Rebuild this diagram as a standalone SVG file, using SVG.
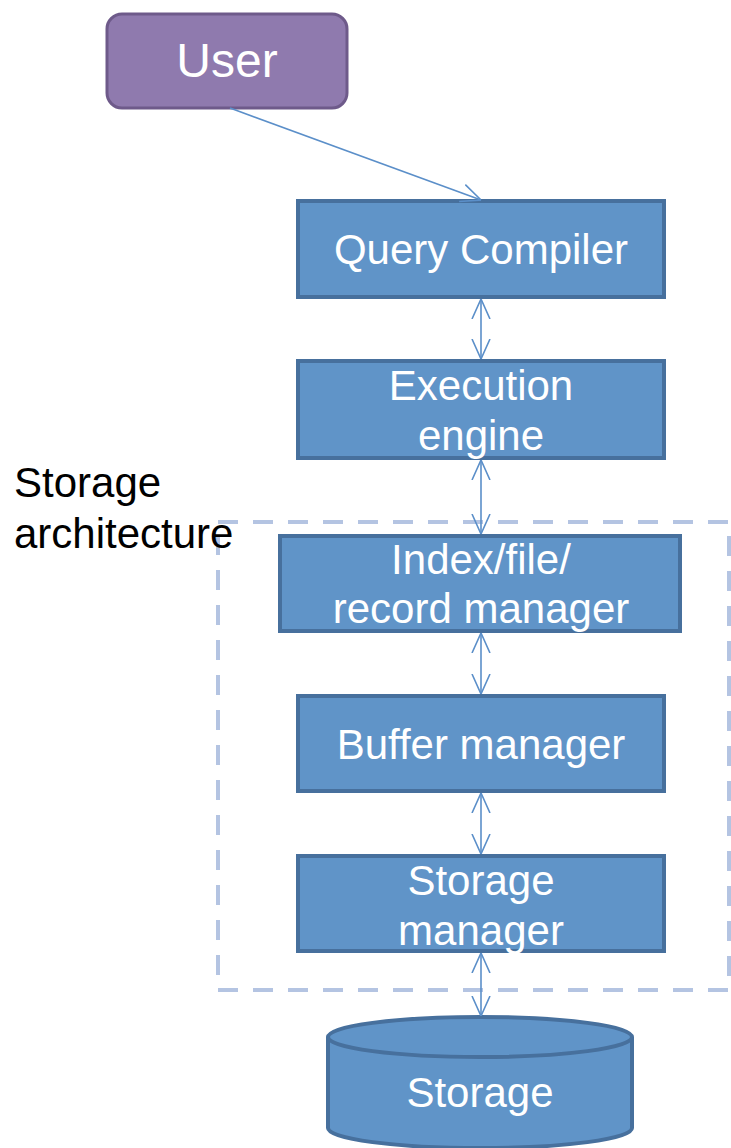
<svg xmlns="http://www.w3.org/2000/svg" width="731" height="1148" viewBox="0 0 731 1148">
<style>
.box{fill:#6094C8;stroke:#47709D;stroke-width:4}
.t{font-family:"Liberation Sans",Arial,sans-serif;font-size:42px;fill:#fff;text-anchor:middle}
.lbl{font-family:"Liberation Sans",Arial,sans-serif;font-size:42px;fill:#000}
.c{stroke:#5B8FC9;stroke-width:1.6;fill:none}
</style>
<defs>
<marker id="ah" viewBox="0 0 20 20" refX="20" refY="10" markerWidth="20" markerHeight="20" markerUnits="userSpaceOnUse" orient="auto-start-reverse">
<path d="M0,1 L20,10 L0,19" fill="none" stroke="#5B8FC9" stroke-width="1.6"/>
</marker>
</defs>
<rect width="731" height="1148" fill="#fff"/>
<g id="storage-architecture">
<rect x="218" y="522" width="511" height="468" fill="none" stroke="#B4C4E2" stroke-width="4" stroke-dasharray="20 15"/>
<text class="lbl" x="14" y="497">Storage</text>
<text class="lbl" x="14" y="548">architecture</text>
</g>
<g id="user">
<rect x="107" y="14" width="240" height="94" rx="15" fill="#8F7AAE" stroke="#6E5A8A" stroke-width="3"/>
<text class="t" x="227" y="77" style="font-size:48px">User</text>
</g>
<g id="query-compiler">
<rect class="box" x="298" y="201" width="366" height="96"/>
<text class="t" x="481" y="264">Query Compiler</text>
</g>
<g id="execution-engine">
<rect class="box" x="298" y="361" width="366" height="97"/>
<text class="t" x="481" y="400">Execution</text>
<text class="t" x="481" y="450">engine</text>
</g>
<g id="index-file-record-manager">
<rect class="box" x="280" y="536" width="400" height="95"/>
<text class="t" x="481" y="574">Index/file/</text>
<text class="t" x="481" y="623">record manager</text>
</g>
<g id="buffer-manager">
<rect class="box" x="298" y="696" width="366" height="95"/>
<text class="t" x="481" y="759">Buffer manager</text>
</g>
<g id="storage-manager">
<rect class="box" x="298" y="856" width="366" height="95"/>
<text class="t" x="481" y="895">Storage</text>
<text class="t" x="481" y="945">manager</text>
</g>
<g id="storage">
<path class="box" d="M328,1037 L328,1128 A152,20 0 0 0 632,1128 L632,1037 A152,20 0 0 0 328,1037 Z"/>
<path d="M328,1037 A152,20 0 0 0 632,1037" fill="none" stroke="#47709D" stroke-width="4"/>
<text class="t" x="480" y="1107">Storage</text>
</g>
<g id="connectors">
<line class="c" x1="230" y1="108" x2="481" y2="200" marker-end="url(#ah)"/>
<line class="c" x1="481" y1="299" x2="481" y2="359" marker-start="url(#ah)" marker-end="url(#ah)"/>
<line class="c" x1="481" y1="460" x2="481" y2="534" marker-start="url(#ah)" marker-end="url(#ah)"/>
<line class="c" x1="481" y1="633" x2="481" y2="694" marker-start="url(#ah)" marker-end="url(#ah)"/>
<line class="c" x1="481" y1="793" x2="481" y2="854" marker-start="url(#ah)" marker-end="url(#ah)"/>
<line class="c" x1="481" y1="953" x2="481" y2="1016" marker-start="url(#ah)" marker-end="url(#ah)"/>
</g>
</svg>
